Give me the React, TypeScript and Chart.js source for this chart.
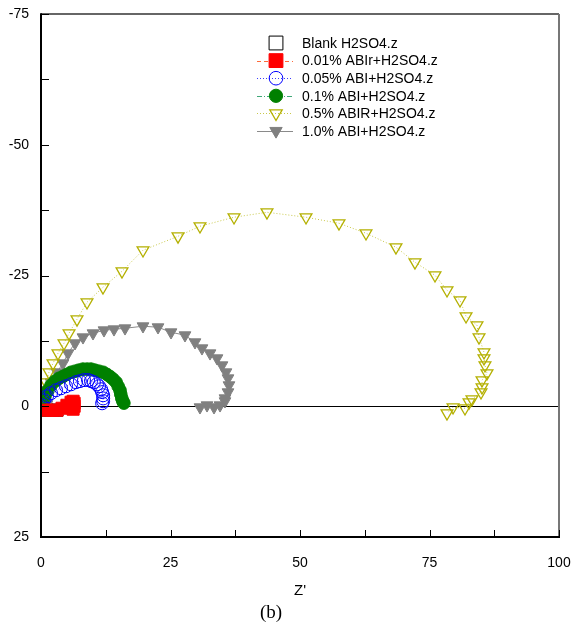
import React, { useEffect, useRef } from "react";
import { Chart, registerables } from "chart.js";

Chart.register(...registerables);

// ---- data (Z', Z'') ----
const blankPts: [number, number][] = [
  [1.16, 0.76], [2.12, 0.76], [3.09, 0.76],
];
const abi001Pts: [number, number][] = [
  [1.16, 0.76], [2.12, 0.76], [3.09, 0.76], [4.05, 0.38], [5.0, -0.19],
  [5.8, -0.76], [6.2, -0.96], [6.4, -0.57], [6.4, 0.0], [6.2, 0.57],
];
const abi005Pts: [number, number][] = [
  [0.19, -0.19], [0.58, -1.15], [1.16, -1.9], [1.93, -2.5], [2.9, -3.06],
  [3.86, -3.44], [4.83, -3.82], [5.8, -4.2], [6.76, -4.6], [7.5, -4.8],
  [8.3, -5.0], [9.1, -5.0], [9.65, -4.8], [10.2, -4.6], [10.8, -4.2],
  [11.2, -3.82], [11.6, -3.25], [11.8, -2.7], [12.0, -2.1], [12.0, -1.5],
  [12.0, -0.96], [11.8, -0.57],
];
const abi01Pts: [number, number][] = [
  [0.97, 0.76], [0.39, -0.76], [0.77, -1.9], [1.35, -3.06], [1.93, -4.0],
  [2.7, -4.8], [3.47, -5.35], [4.25, -5.7], [5.0, -6.1], [5.8, -6.5],
  [6.56, -6.7], [7.3, -6.9], [8.1, -7.1], [8.9, -7.1], [9.65, -7.1],
  [10.4, -6.9], [11.2, -6.7], [12.0, -6.5], [12.7, -6.1], [13.3, -5.7],
  [13.9, -5.2], [14.5, -4.6], [14.9, -3.8], [15.25, -3.06], [15.4, -2.3],
  [15.6, -1.5], [15.8, -0.96], [16.0, -0.6],
];
const abir05Pts: [number, number][] = [
  [0.19, -0.76], [0.58, -2.49], [0.97, -4.59], [1.54, -6.5], [2.32, -8.22],
  [3.28, -10.13], [4.44, -12.05], [5.41, -13.96], [6.95, -16.63], [8.88, -19.89],
  [11.97, -22.75], [15.64, -25.81], [19.69, -29.83], [26.45, -32.5], [30.69, -34.42],
  [37.26, -36.14], [43.63, -37.09], [51.16, -36.14], [57.53, -34.99], [62.74, -33.08],
  [68.53, -30.4], [72.2, -27.53], [76.06, -25.05], [78.38, -22.18], [80.89, -20.27],
  [82.05, -17.21], [84.17, -15.49], [84.56, -13.19], [85.52, -10.33], [85.52, -9.18],
  [85.71, -7.84], [86.1, -6.31], [85.14, -4.97], [85.14, -3.63], [84.94, -2.68],
  [83.2, -1.34], [82.63, -0.76], [81.85, 0.38], [79.54, 0.19], [78.38, 1.34],
];
const abi10Pts: [number, number][] = [
  [1.16, -0.38], [0.97, -1.72], [1.35, -3.06], [1.93, -4.59], [3.09, -6.5],
  [4.25, -8.22], [5.21, -10.13], [6.56, -12.05], [8.11, -13.19], [10.04, -13.96],
  [12.16, -14.53], [14.09, -14.72], [16.22, -14.91], [19.69, -15.3], [22.59, -15.11],
  [25.1, -14.15], [27.8, -13.58], [29.73, -12.24], [31.08, -11.09], [32.63, -10.13],
  [33.98, -9.18], [34.94, -7.84], [35.71, -6.5], [36.1, -5.35], [36.29, -4.02],
  [36.1, -2.68], [35.52, -1.53], [35.52, -0.96], [34.56, -0.19], [33.4, 0.19],
  [32.05, -0.19], [30.69, 0.19],
];

const seriesLabels = [
  "Blank H2SO4.z",
  "0.01% ABIr+H2SO4.z",
  "0.05% ABI+H2SO4.z",
  "0.1% ABI+H2SO4.z",
  "0.5% ABIR+H2SO4.z",
  "1.0% ABI+H2SO4.z",
];
const xTickValues = [0, 25, 50, 75, 100];
const yTickValues = [-75, -50, -25, 0, 25];

const toXY = (a: [number, number][]) => a.map(([x, y]) => ({ x, y }));

const FONT = '"Liberation Sans", Arial, Helvetica, sans-serif';

type Sty = {
  marker: string;
  rot: number;
  r: number;
  fill: string;
  stroke: string;
  mlw: number;
  line: string;
  dash: number[];
};

const styles: Sty[] = [
  { marker: "rect", rot: 0, r: 8.5, fill: "rgba(0,0,0,0)", stroke: "#000000", mlw: 1, line: "rgba(0,0,0,0)", dash: [] },
  { marker: "rect", rot: 0, r: 8.5, fill: "#ff0000", stroke: "#ff0000", mlw: 1, line: "#ff6a3a", dash: [4, 3] },
  { marker: "circle", rot: 0, r: 6.5, fill: "rgba(0,0,0,0)", stroke: "#0000ff", mlw: 1, line: "#3a3aff", dash: [1, 2] },
  { marker: "circle", rot: 0, r: 6.3, fill: "#008000", stroke: "#008000", mlw: 1, line: "#40a878", dash: [5, 2, 1, 2] },
  { marker: "triangle", rot: 180, r: 6.8, fill: "rgba(0,0,0,0)", stroke: "#b4b000", mlw: 1.3, line: "#c8c84a", dash: [1, 2] },
  { marker: "triangle", rot: 180, r: 6.8, fill: "#808080", stroke: "#808080", mlw: 1, line: "#8a8a8a", dash: [] },
];

function drawMarker(ctx: CanvasRenderingContext2D, s: Sty, x: number, y: number) {
  ctx.save();
  ctx.beginPath();
  if (s.marker === "rect") {
    const h = s.r * Math.SQRT1_2;
    ctx.rect(x - h, y - h, 2 * h, 2 * h);
  } else if (s.marker === "circle") {
    ctx.arc(x, y, s.r, 0, Math.PI * 2);
  } else {
    const r = s.r;
    ctx.moveTo(x, y + r);
    ctx.lineTo(x - r * Math.sin(Math.PI / 3), y - r / 2);
    ctx.lineTo(x + r * Math.sin(Math.PI / 3), y - r / 2);
    ctx.closePath();
  }
  ctx.fillStyle = s.fill;
  ctx.fill();
  ctx.lineWidth = s.mlw;
  ctx.strokeStyle = s.stroke;
  ctx.stroke();
  ctx.restore();
}

const decorPlugin = {
  id: "decor",
  beforeDatasetsDraw(chart: any) {
    const { ctx, chartArea, scales } = chart;
    const y0 = scales.y.getPixelForValue(0);
    ctx.save();
    ctx.strokeStyle = "#000";
    ctx.lineWidth = 1;
    ctx.beginPath();
    ctx.moveTo(chartArea.left, Math.round(y0) + 0.5);
    ctx.lineTo(chartArea.right, Math.round(y0) + 0.5);
    ctx.stroke();
    ctx.restore();
  },
  afterDraw(chart: any) {
    const { ctx, chartArea, scales } = chart;
    const { left, right, top, bottom } = chartArea;
    ctx.save();
    // frame
    ctx.lineWidth = 1.5;
    ctx.strokeStyle = "#333";
    ctx.beginPath();
    ctx.moveTo(left, top);
    ctx.lineTo(right, top);
    ctx.stroke();
    ctx.lineWidth = 2;
    ctx.strokeStyle = "#777";
    ctx.beginPath();
    ctx.moveTo(right, top);
    ctx.lineTo(right, bottom);
    ctx.stroke();
    ctx.strokeStyle = "#000";
    ctx.beginPath();
    ctx.moveTo(left, top - 0.75);
    ctx.lineTo(left, bottom);
    ctx.lineTo(right + 1, bottom);
    ctx.stroke();
    // inward ticks
    ctx.lineWidth = 1;
    ctx.beginPath();
    scales.x.ticks.forEach((t: any) => {
      const px = Math.round(scales.x.getPixelForValue(t.value)) + 0.5;
      ctx.moveTo(px, bottom);
      ctx.lineTo(px, bottom - 7);
    });
    scales.y.ticks.forEach((t: any) => {
      const py = Math.round(scales.y.getPixelForValue(t.value)) + 0.5;
      ctx.moveTo(left, py);
      ctx.lineTo(left + 8, py);
    });
    ctx.stroke();
    // legend
    const lx0 = 257, lx1 = 293, mx = 276, tx = 302;
    ctx.font = "14px " + FONT;
    ctx.textBaseline = "middle";
    ctx.textAlign = "left";
    seriesLabels.forEach((lab, i) => {
      const s = styles[i];
      const y = 43 + i * 17.6;
      if (i > 0) {
        ctx.save();
        ctx.strokeStyle = s.line;
        ctx.lineWidth = 1;
        ctx.setLineDash(s.dash);
        ctx.beginPath();
        ctx.moveTo(lx0, Math.round(y) + 0.5);
        ctx.lineTo(lx1, Math.round(y) + 0.5);
        ctx.stroke();
        ctx.restore();
      }
      drawMarker(ctx, { ...s, r: s.marker === "rect" ? s.r * 1.15 : s.r * 1.05 }, mx, y);
      ctx.fillStyle = "#000";
      ctx.fillText(lab, tx, y + 1);
    });
    // caption
    ctx.font = '19px "Liberation Serif", "Times New Roman", serif';
    ctx.textAlign = "center";
    ctx.fillStyle = "#000";
    ctx.fillText("(b)", 271, 613);
    ctx.restore();
  },
};

const allSeries = [blankPts, abi001Pts, abi005Pts, abi01Pts, abir05Pts, abi10Pts];

export default function App() {
  const ref = useRef<HTMLCanvasElement>(null);
  useEffect(() => {
    document.body.style.margin = "0";
    const datasets = allSeries.map((pts, i) => {
      const s = styles[i];
      return {
        label: seriesLabels[i],
        data: toXY(pts),
        showLine: i > 0,
        borderColor: s.line,
        borderWidth: 1,
        borderDash: s.dash,
        tension: 0,
        pointStyle: s.marker,
        rotation: s.rot,
        pointRadius: s.r,
        pointBackgroundColor: s.fill,
        pointBorderColor: s.stroke,
        pointBorderWidth: s.mlw,
        order: i === 0 ? 10 : i,
      };
    });
    const tickCb = (vals: number[]) => (v: any) => {
      const n = Number(v);
      return vals.some((t) => Math.abs(t - n) < 1e-9) ? String(n) : "";
    };
    const chart = new Chart(ref.current as HTMLCanvasElement, {
      type: "scatter",
      data: { datasets: datasets as any },
      options: {
        animation: false,
        responsive: false,
        devicePixelRatio: 1,
        layout: { padding: { top: 14, right: 15, left: 0, bottom: 0 } },
        plugins: { legend: { display: false }, tooltip: { enabled: false } },
        scales: {
          x: {
            type: "linear",
            min: 0,
            max: 100,
            grid: { display: false, drawTicks: false },
            border: { display: false },
            ticks: {
              stepSize: 12.5,
              autoSkip: false,
              maxRotation: 0,
              padding: 18,
              color: "#000",
              font: { family: FONT, size: 14 },
              callback: tickCb(xTickValues),
            },
            title: {
              display: true,
              text: "Z'",
              color: "#000",
              font: { family: FONT, size: 15 },
              padding: { top: 0, bottom: 26 },
            },
            afterFit: (s: any) => {
              s.height = 89;
              s.paddingLeft = 0;
              s.paddingRight = 0;
            },
          },
          y: {
            type: "linear",
            min: -75,
            max: 25,
            reverse: true,
            grid: { display: false, drawTicks: false },
            border: { display: false },
            ticks: {
              stepSize: 12.5,
              autoSkip: false,
              padding: 12,
              color: "#000",
              font: { family: FONT, size: 14 },
              callback: tickCb(yTickValues),
            },
            afterFit: (s: any) => {
              s.width = 41;
              s.paddingTop = 0;
              s.paddingBottom = 0;
            },
          },
        },
      },
      plugins: [decorPlugin],
    });
    return () => chart.destroy();
  }, []);
  return (
    <div style={{ width: 574, height: 626 }}>
      <canvas ref={ref} width={574} height={626} style={{ display: "block" }} />
    </div>
  );
}
